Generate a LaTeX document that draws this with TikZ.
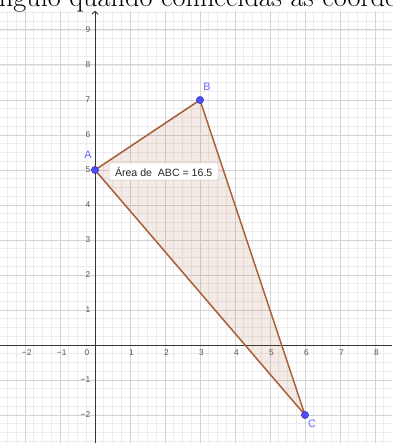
\documentclass[tikz,border=0pt]{standalone}
\usepackage{fontspec}
\newfontfamily\labfont{Liberation Sans}
\usetikzlibrary{arrows.meta}
\definecolor{ggbrown}{RGB}{168,98,62}
\definecolor{ggfill}{RGB}{160,70,30}
\definecolor{ggblue}{RGB}{77,77,255}
\definecolor{gridmin}{RGB}{236,236,236}
\definecolor{gridmaj}{RGB}{212,212,212}
\definecolor{axisgray}{RGB}{55,55,55}
\definecolor{ticklab}{RGB}{85,85,85}
\begin{document}
\begin{tikzpicture}[x=1cm,y=1cm,
  ticklabel/.style={font=\labfont\fontsize{6.8}{7}\selectfont, text=ticklab, inner sep=0pt},
  ggpoint/.style={circle, fill=ggblue, draw=ggblue!55!black, line width=0.3pt, inner sep=0pt, minimum size=0.21cm},
  ptlabel/.style={font=\labfont\fontsize{8.8}{10}\selectfont, text=ggblue!85!white, inner sep=0pt},
  edge/.style={ggbrown, line width=1.25pt, line join=round},
  areabox/.style={draw=black!22, fill=white, rounded corners=1pt, line width=0.4pt,
    font=\labfont\fontsize{8.6}{9}\selectfont, text=black!85, inner xsep=2.4pt, inner ysep=0pt,
    minimum height=0.49cm, minimum width=3.11cm, anchor=west},
  axis/.style={axisgray, line width=0.7pt}
  ]
\useasboundingbox (-2.7143,-2.8) rectangle (8.4857,9.8571);
\begin{scope}
\clip (-2.7143,-2.8) rectangle (8.4857,9.8571);
\fill[white] (-2.7143,-2.8) rectangle (8.4857,9.8571);
\draw[gridmin, line width=0.5pt, step=0.25] (-2.7143,-2.8) grid (8.4857,9.53);
\draw[gridmaj, line width=0.8pt, step=1] (-2.7143,-2.8) grid (8.4857,9.53);
% axes
\coordinate (xl) at (-2.7143,0);
\coordinate (xr) at (8.4857,0);
\coordinate (yb) at (0,-2.8);
\coordinate (yt) at (0,9.55);
\draw[axis] (xl) -- (xr);
\draw[axis, -{Straight Barb[length=2.5pt,width=5pt]}] (yb) -- (yt);
% tick labels
\foreach \n in {1,...,8} \node[ticklabel, anchor=north] (xt\n) at (\n+0.04,-0.13) {\n};
\node[ticklabel, anchor=north] (xtm1) at (-0.95,-0.13) {−1};
\node[ticklabel, anchor=north] (xtm2) at (-1.95,-0.13) {−2};
\node[ticklabel, anchor=north] (xt0) at (-0.23,-0.13) {0};
\foreach \n in {1,...,9} \node[ticklabel, anchor=east] (yt\n) at (-0.13,\n) {\n};
\node[ticklabel, anchor=east] (ytm1) at (-0.13,-1) {−1};
\node[ticklabel, anchor=east] (ytm2) at (-0.13,-2) {−2};
% triangle
\coordinate (A) at (0,5);
\coordinate (B) at (3,7);
\coordinate (C) at (6,-2);
\fill[ggfill, fill opacity=0.11] (A) -- (B) -- (C) -- cycle;
\draw[edge] (A) -- (B) -- (C) -- cycle;
\node[areabox] (area) at (0.4,4.957) {Área de\ \ ABC = 16.5};
\node[ggpoint] (pA) at (A) {};
\node[ggpoint] (pB) at (B) {};
\node[ggpoint] (pC) at (C) {};
\node[ptlabel] (lA) at (-0.2,5.43) {A};
\node[ptlabel] (lB) at (3.2,7.37) {B};
\node[ptlabel] (lC) at (6.2,-2.26) {C};
% top text (cut off)
\fill[white] (-2.7143,9.53) rectangle (8.4857,9.8571);
\node[anchor=base west, inner sep=0pt, font=\fontsize{23}{27}\selectfont] (title) at (-2.75,9.671) {ngulo quando conhecidas as coordenadas};
\end{scope}
\end{tikzpicture}
\end{document}
